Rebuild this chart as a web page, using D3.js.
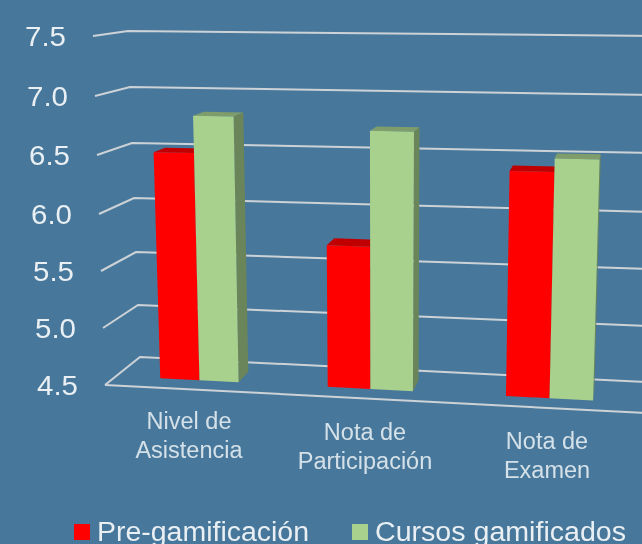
<!DOCTYPE html>
<html>
<head>
<meta charset="utf-8">
<script src="https://cdn.jsdelivr.net/npm/d3@7"></script>
<style>
    html, body { margin: 0; padding: 0; background: #47789b; overflow: hidden; }
    svg { display: block; }
    text { font-family: "Liberation Sans", Arial, sans-serif; fill: #e9eff3; }
</style>
</head>
<body>
<svg></svg>
<script>
// Chart data
const categories = ["Nivel de Asistencia", "Nota de Participación", "Nota de Examen"];
const categoryLines = [["Nivel de", "Asistencia"], ["Nota de", "Participación"], ["Nota de", "Examen"]];
const seriesNames = ["Pre-gamificación", "Cursos gamificados"];
const preGamificacion = [6.5, 5.74, 6.41];
const cursosGamificados = [6.82, 6.72, 6.52];
const tickValues = [4.5, 5.0, 5.5, 6.0, 6.5, 7.0, 7.5];

const width = 642, height = 544;
const svg = d3.select("svg").attr("width", width).attr("height", height);

const defs = svg.append("defs");
defs.append("filter").attr("id", "soft")
    .append("feGaussianBlur").attr("stdDeviation", 0.5);

// The four vertical edges of the 3D box, one scale per edge
const frontLeftY = d3.scaleLinear().domain(tickValues).range([385, 328, 271, 214, 155, 96, 36]);
const backLeftY = d3.scaleLinear().domain(tickValues).range([357, 305, 252, 198, 143, 87, 31]);
const backRightY = d3.scaleLinear().domain(tickValues).range([382, 326, 269, 212, 153, 95, 36]);
const frontRightY = d3.scaleLinear().domain(tickValues).range([413, 353, 292, 231, 168, 106, 43]);
const frontLeftX = d3.scaleLinear().domain([4.5, 7.5]).range([105, 93]);
const backLeftX = d3.scaleLinear().domain([4.5, 7.5]).range([140, 128]);
const rightX = d3.scaleLinear().domain([4.5, 7.5]).range([646, 658]);

// Position along the floor front edge, widening a little to the right
const floorX = d3.scaleLinear().domain([105, 646]).range([0, 1]);
const categoryIndex = d3.scalePoint().domain(categories).range([0, 2]);
const barCenter = d3.scaleLinear().domain([0, 1, 2]).range([190, 364.5, 547.5]);
const barHalfWidth = d3.scaleLinear().domain([0, 1, 2]).range([40, 43.5, 44.5]);

// Bilinear projection: x0 on the floor, d depth (0 front, 1 back), v value
function project(x0, d, v) {
    let t = floorX(x0);
    let fx = frontLeftX(v) + t * (rightX(v) - frontLeftX(v));
    let bx = backLeftX(v) + t * (rightX(v) - backLeftX(v));
    let fy = frontLeftY(v) + t * (frontRightY(v) - frontLeftY(v));
    let by = backLeftY(v) + t * (backRightY(v) - backLeftY(v));
    return [fx + d * (bx - fx), fy + d * (by - fy)];
}

const root = svg.append("g").attr("filter", "url(#soft)");

// Gridlines: front-left to back-left to back-right
const line = d3.line();
root.append("g").selectAll("path")
    .data(tickValues)
    .join("path")
    .attr("d", v => line([project(105, 0, v), project(105, 1, v), project(646, 1, v)]))
    .attr("fill", "none")
    .attr("stroke", "#cdd2d6")
    .attr("stroke-width", 2);
root.append("path")
    .attr("d", line([project(105, 0, 4.5), project(646, 0, 4.5)]))
    .attr("fill", "none")
    .attr("stroke", "#cdd2d6")
    .attr("stroke-width", 2);

// Value labels
root.append("g").selectAll("text")
    .data(tickValues)
    .join("text")
    .attr("x", v => project(105, 0, v)[0] - 27)
    .attr("y", v => project(105, 0, v)[1] + 10)
    .attr("text-anchor", "end")
    .attr("font-size", 28)
    .attr("textLength", 41)
    .attr("lengthAdjust", "spacingAndGlyphs")
    .text(d3.format(".1f"));

// Bars
const depthFront = 0.32, depthBack = 0.68;
const baseValue = tickValues[0];
const seriesColors = [
    { front: "#ff0000", top: "#c00000", side: "#a00000" },
    { front: "#a9d18e", top: "#7f9d6b", side: "#6b855a" }
];

function drawBar(group, x1, x2, v, colors) {
    let poly = pts => line(pts) + "Z";
    group.append("path").attr("fill", colors.side).attr("d", poly([
        project(x2, depthFront, baseValue), project(x2, depthBack, baseValue),
        project(x2, depthBack, v), project(x2, depthFront, v)]));
    group.append("path").attr("fill", colors.top).attr("d", poly([
        project(x1, depthFront, v), project(x2, depthFront, v),
        project(x2, depthBack, v), project(x1, depthBack, v)]));
    group.append("path").attr("fill", colors.front).attr("d", poly([
        project(x1, depthFront, baseValue), project(x2, depthFront, baseValue),
        project(x2, depthFront, v), project(x1, depthFront, v)]));
}

categories.forEach((c, i) => {
    let idx = categoryIndex(c);
    let center = barCenter(idx), half = barHalfWidth(idx);
    let g = root.append("g");
    drawBar(g, center - half, center, preGamificacion[i], seriesColors[0]);
    drawBar(g, center, center + half, cursosGamificados[i], seriesColors[1]);
});

// Category labels
const labelX = d3.scaleLinear().domain([0, 1, 2]).range([189, 365, 547]);
const labelY = d3.scaleLinear().domain([0, 1, 2]).range([429, 440, 449]);
const labels = root.append("g").selectAll("text")
    .data(categories)
    .join("text")
    .attr("text-anchor", "middle")
    .attr("font-size", 23.5)
    .attr("fill-opacity", 0.88);
labels.selectAll("tspan")
    .data((c, i) => categoryLines[i].map((t, j) => ({ t: t, j: j, i: i })))
    .join("tspan")
    .attr("x", d => labelX(d.i))
    .attr("y", d => labelY(d.i) + d.j * 29)
    .text(d => d.t);

// Legend
const legendX = d3.scaleOrdinal().domain(seriesNames).range([74, 352]);
const legendTextWidth = d3.scaleOrdinal().domain(seriesNames).range([212, 251]);
const legend = root.append("g").selectAll("g")
    .data(seriesNames)
    .join("g")
    .attr("transform", d => `translate(${legendX(d)},0)`);
legend.append("rect")
    .attr("x", 0).attr("y", 524)
    .attr("width", 16).attr("height", 16)
    .attr("fill", (d, i) => seriesColors[i].front);
legend.append("text")
    .attr("x", 23).attr("y", 541)
    .attr("font-size", 27)
    .attr("textLength", d => legendTextWidth(d))
    .attr("lengthAdjust", "spacingAndGlyphs")
    .text(d => d);
</script>
</body>
</html>
